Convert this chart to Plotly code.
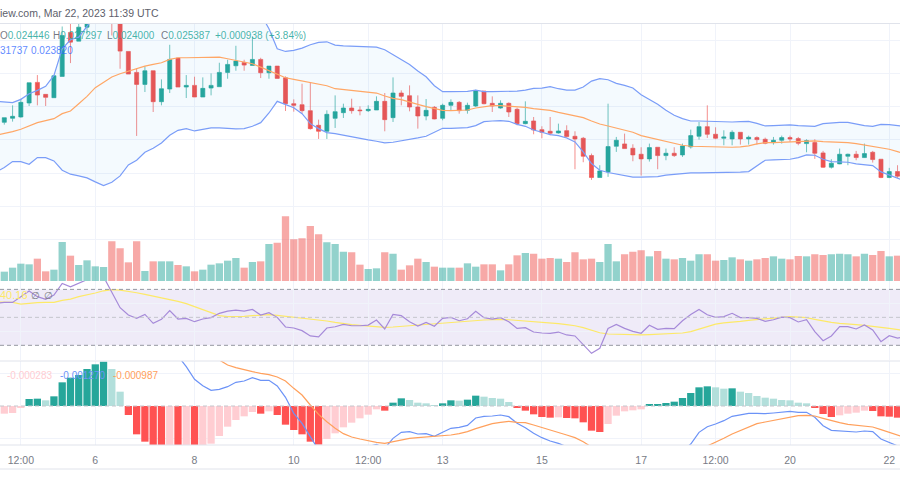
import pandas as pd
import plotly.graph_objects as go
from plotly.subplots import make_subplots

# 4H candles, prices are in units of 1e-4 (0.025 -> 250)
# first and last entries sit just outside the visible range
first_candle = "2023-03-04 00:00"

opens = [326,326.5,332.5,334.5,355.5,386.5,368.5,363.5,395.5,461.5,448.5,
         469.5,481,505,515,481,433,401.5,383.5,404,357.5,
         376.5,423,379.5,382,364.5,378,380,401.5,411.5,416.5,
         412,421,401,411,393.5,354.5,353,344,322,313,
         332.5,341,348,345,344,345,358,333.5,370.5,366.5,
         349.5,336,349,332.5,352,356.5,344.5,351,373.5,355,
         348,355,346,324.5,328.5,315.5,313,310.5,314,305.5,
         302.5,276.5,243.5,252,290.5,294,287.5,278.5,271.5,289,
         276.5,280,277.5,289.5,305.5,320,308.5,302.5,301.5,311.5,
         301.5,303.5,301,296,299.5,303.5,302,294.5,296,280.5,
         259,264,275.5,278.5,273.5,281.5,271,243.5,252.5,245.5]
highs = [330,333.5,352,362,386,397.5,368.5,396.5,470.5,479.5,480,
         489.5,510,520,520,490,433,408,410.5,404,391,
         443,423,397.5,395,394,400,416,420.5,441.5,420.5,
         455.5,423.5,411,411,395.5,361,384.5,386,330.5,344.5,
         367,354.5,362,350.5,352,365.5,370.5,394,374.5,382,
         367,361.5,351,354.5,361,358.5,356,375.5,373.5,365.5,
         359.5,356.5,348.5,358,334.5,320.5,334.5,324.5,322,313,
         304.5,279.5,262,354.5,304.5,309.5,293.5,289,294.5,289,
         287,289,294.5,315.5,327,352,319,314.5,314.5,311.5,
         306.5,305.5,303.5,304.5,306.5,306.5,304.5,301,301,283.5,
         271,287,279.5,283.5,294.5,283.5,271,258,262,250]
lows = [320,323,327.5,333.5,351,352,351,363,395.5,415.5,448.5,
        458.5,478,500,457,407,399,306,372,342,352,
        370.5,379.5,363,364.5,364.5,367,380,392,404,404,
        412,393,392,392.5,343.5,342.5,339.5,315.5,301.5,301.5,
        318,333,339.5,337,342,345,313,327,352,343,
        317,329.5,331,329.5,343.5,339.5,339.5,349.5,353.5,342,
        347,334.5,322,323.5,308.5,302.5,307,309.5,303.5,256,
        266.5,240,243.5,244.5,282,287,268,246.5,267.5,256,
        269.5,274.5,274.5,287,300.5,303,301,292,292,293,
        293,293,293.5,293,294.5,297,292,281.5,271.5,258,
        257,263.5,262,269.5,273,266,242.5,242.5,243,240]
closes = [326.5,333.5,335.5,356.5,386,367.5,364,396.5,457,447,469.5,
          479.5,505,515,482,433.5,399,383.5,404,357.5,377,
          421,379.5,382,364.5,377.5,382,401.5,413.5,418.5,412.5,
          421,401,411,392.5,354.5,352,344,317,313,338.5,
          342.5,348,344,344,346,358,330.5,370.5,365.5,349.5,
          336,344.5,331.5,352,356.5,344,352,373.5,354.5,351,
          355,342,324.5,328,315,311.5,310,313.5,305,301.5,
          275.5,243.5,253.5,290,299.5,287,277.5,271.5,288.5,276.5,
          280,276.5,291,306.5,320,308.5,302.5,304.5,311.5,301.5,
          304,300.5,295,299.5,303.5,301.5,295,299,280,259,
          265,278.5,278.5,273.5,279.5,270.5,243.5,252.5,245.5,244]

bb_upper = [358,357,356,361,369.5,374.5,380.5,397,437,450.5,454.5,470.5,489.5,514.5,524.5,529.5,
            535,540,545,548,550,552,553,552,550,548,545,540,535,525,515,505,489.5,467,437,433,434.5,
            438,443,446.5,447.5,442.5,441.5,441,440.5,440.5,439.5,435.5,428,421.5,413.5,403.5,395,381.5,
            372.5,372.5,372.5,373,375,372.5,372.5,372.5,373,373.5,375,377.5,378,380,377,375,375,379.5,388.5,392,
            390.5,385,382,378,368,361,353.5,344.5,337,332,328.5,328.5,328,327,326.5,327,327.5,328,325,321,
            321.5,322,322.5,321.5,320.5,320.5,324.5,326,326.5,326.5,323.5,321.5,320.5,323.5,323,321,320]
bb_basis = [307,309.5,312.5,316,320.5,326,329,332,339.5,343.5,354.5,365.5,378.5,387,394.5,399.5,403.5,408,411,
            413.5,416,421,423.5,423.5,424,424.5,425,424.5,422,419.5,417,414.5,409.5,404.5,398.5,393.5,391,
            388.5,385.5,383.5,381.5,377,375.5,374,373,372,370.5,366,362.5,360.5,357.5,353.5,350,347.5,344.5,
            344,344,345,348,350,351.5,351.5,350.5,350.5,349,347,345.5,344.5,341.5,339,336,333.5,328.5,324,
            321,318,314.5,311.5,306.5,303.5,300.5,297.5,294.5,292,290.5,290,289.5,289,289,289,289.5,291,294,
            296,296,296.5,297,297.5,298,298.5,297.5,297,297,296,294.5,292.5,291,289,286,282.5,279]
bb_lower = [252,258.5,267.5,267.5,263.5,273.5,273.5,268.5,254.5,248.5,246,243,237,231.5,236.5,246,262.5,269.5,
            281.5,287.5,295.5,307,314.5,317,313.5,316,318,318,317,316.5,317,320.5,326,340.5,358,353.5,348.5,
            339.5,324.5,317,311,309.5,307,304,301.5,300,298,295.5,296.5,298.5,300,303,305.5,312,317.5,317.5,
            317.5,318.5,321.5,327.5,328.5,329,328,323.5,320.5,315,311.5,308,306.5,303,297,282,264.5,254.5,
            251,248.5,246,244,244,244.5,245,247,248.5,249.5,250.5,250.5,250.5,251,251.5,251.5,251.5,252.5,
            261.5,269.5,270,270.5,271,273.5,277.5,277,271,267.5,267,266.5,264,263,261.5,252,247,242,238]

volume = [25,28,40,52,50,67,29,34,117,76,48,62,44,42,119,98,56,119,30,59,59,59,48,44,29,34,49,53,61,69,40,
          57,59,111,115,194,125,128,165,140,116,111,88,86,49,36,38,86,82,34,47,67,57,43,40,40,40,53,43,50,50,
          32,50,77,84,82,67,69,67,57,86,65,67,57,111,59,80,88,92,74,90,67,65,69,61,80,80,61,63,71,65,
          61,65,69,74,67,65,75,74,80,78,80,82,80,74,82,78,90,74,76,70]

rsi = [60,60.7,60.7,64.8,68.8,64.8,62.9,66,74.3,71.9,74.3,76.7,79.5,79,68.3,56.9,51.7,49.3,52.1,45.7,48.6,
       54.8,48.8,49.3,46.9,48.8,49.8,52.9,54.5,55.2,54.5,55.7,51.7,53.3,50,43.1,42.4,
       40.5,36.7,36,42.4,43.3,45,44,44,44.5,48.1,41.7,52.1,51.2,46.9,43.8,46.4,43.6,49.3,50,47.6,49,54.3,
       49.8,48.8,49.8,46.9,42.1,42.6,39.5,38.8,38.6,39.5,37.4,36.7,30.2,24.3,27.9,
       42.1,45,42.1,40,38.6,44.3,41.4,42.1,41.9,47.6,52.1,55.7,51.9,50,50.5,52.9,49.8,49.8,49.3,47.1,48.3,
       50.2,49.8,46.7,48.3,39.8,33.3,36.7,43.3,43.3,41.7,44.5,41,32.6,36.9,35.2,36]
rsi_ma = [61,60.95,60.7,59.5,60.2,60.5,60.7,60.7,62.1,63.1,64.8,66,67.4,69,69.8,69.5,68.8,67.6,66.4,65.2,64.3,
          63.1,61.4,59.8,57.6,55.2,52.9,51.2,50.5,50.5,50.7,51.2,51.4,51.9,51.4,50.7,50.2,
          49.8,49,48.1,47.4,46.4,45.5,44.8,44.3,43.8,43.3,42.9,43.1,43.6,44,44.5,45,45.5,46,46.4,46.7,47.1,47.9,
          48.1,48.3,48.6,48.3,47.9,47.4,46.9,46.4,46.2,45.5,44.8,44,42.6,40.7,39,
          38.1,37.9,37.4,37.1,37.4,37.6,37.9,38.1,38.1,38.8,39.8,41.7,43.8,45.2,46,46.4,47.1,47.9,48.6,49,49.5,
          50,50.5,50.2,49.8,48.6,47.4,46.4,45.7,45,44.8,44.3,43.8,42.9,42.1,41.2,40.5]

# macd panel in units of 1e-5
histogram = [-25,-23,-21,-5,21,22,17,29,71,85,93,111,125,133,111,43,-27,-85,-107,-120,-135,
             -130,-138,-128,-136,-125,-113,-90,-62,-42,-31,-18,-23,-16,-27,-56,-72,-85,-107,-116,-99,
             -82,-64,-50,-37,-26,-10,-14,10,23,18,10,8,2,8,17,16,19,31,28,24,
             22,12,-5,-14,-25,-33,-35,-34,-36,-37,-49,-74,-78,-54,-29,-16,-13,-10,4,5,
             9,13,24,39,56,59,56,52,53,43,39,30,25,22,18,17,10,8,-5,-24,
             -33,-28,-23,-20,-14,-15,-31,-32,-35,-38]
macd = [175,170,165,162,175,190,195,210,260,300,320,350,370,380,375,345,330,300,270,240,215,190,150,
        118,80,61,47,50,58,71,75,85,77,77,60,26,-22,-52,-92,-132,-150,-160,-150,-140,-130,-122,
        -115,-127,-97,-79,-77,-84,-83,-91,-79,-67,-64,-58,-36,-31,-30,-27,-32,-52,-65,-82,-95,-105,-112,-122,
        -145,-170,-200,-235,-255,-240,-230,-215,-205,-195,-180,-170,-155,-135,
        -114,-79,-62,-54,-44,-31,-26,-22,-22,-23,-21,-18,-16,-19,-19,-34,-59,-73,-74,-75,-78,-75,-77,-99,-109,-121,-130]
signal = [200,193,186,167,154,168,178,181,189,215,227,239,245,247,264,302,357,385,377,360,350,320,288,246,216,186,160,
          138,123,115,108,103,98,94,87,75,53,
          33,3,-25,-47,-67,-83,-93,-99,-105,-109,-112,-107,-102,-97,-95,-93,-92,-89,-87,-83,-77,-68,-60,-53,-49,-46,
          -49,-50,-57,-64,-72,-80,-87,-95,-107,-123,
          -145,-170,-190,-195,-192,-185,-180,-172,-165,-155,-145,-135,-125,-120,
          -109,-97,-84,-73,-63,-53,-48,-43,-37,-32,-29,-28,-30,-37,-44,-50,-55,-58,-60,-63,-71,-79,-88,-95]

tick_dates = ["2023-03-04 12:00","2023-03-06","2023-03-08","2023-03-10","2023-03-11 12:00","2023-03-13",
              "2023-03-15","2023-03-17","2023-03-18 12:00","2023-03-20","2023-03-22"]
tick_labels = ["12:00","6","8","10","12:00","13","15","17","12:00","20","22"]

for series in (opens, highs, lows, closes, bb_upper, bb_basis, bb_lower, volume, rsi, rsi_ma, histogram, macd, signal):
    assert len(series) == 111, len(series)

UP = "#26A69A"
DOWN = "#EF5350"
GRID = "#F0F3FA"
TEXT = "#787B86"

dates = pd.date_range(first_candle, periods=len(opens), freq="4h")

vol_colors = ["rgba(38,166,154,0.5)" if c >= o else "rgba(239,83,80,0.5)" for o, c in zip(opens, closes)]

hist_colors = []
for n, v in enumerate(histogram):
    prev = histogram[n - 1] if n else v
    if v >= 0:
        hist_colors.append("#26A69A" if v >= prev else "#B2DFDB")
    else:
        hist_colors.append("#FF5252" if v < prev else "#FFCDD2")

fig = make_subplots(rows=3, cols=1, shared_xaxes=True, vertical_spacing=0.002,
                    specs=[[{"secondary_y": True}], [{}], [{}]])

# price pane
fig.add_trace(go.Bar(x=dates, y=volume, marker=dict(color=vol_colors, line=dict(width=0))),
              row=1, col=1, secondary_y=True)
fig.add_trace(go.Scatter(x=dates, y=bb_lower, mode="lines", line=dict(color="#7A9DF8", width=1.2)),
              row=1, col=1, secondary_y=False)
fig.add_trace(go.Scatter(x=dates, y=bb_upper, mode="lines", line=dict(color="#7A9DF8", width=1.2),
                         fill="tonexty", fillcolor="rgba(33,150,243,0.05)"),
              row=1, col=1, secondary_y=False)
fig.add_trace(go.Scatter(x=dates, y=bb_basis, mode="lines", line=dict(color="#FFA766", width=1.2)),
              row=1, col=1, secondary_y=False)
fig.add_trace(go.Candlestick(x=dates, open=opens, high=highs, low=lows, close=closes,
                             increasing=dict(line=dict(color="rgba(38,166,154,0.65)", width=1), fillcolor=UP),
                             decreasing=dict(line=dict(color="rgba(239,83,80,0.65)", width=1), fillcolor=DOWN)),
              row=1, col=1, secondary_y=False)

# rsi pane
fig.add_trace(go.Scatter(x=dates, y=rsi_ma, mode="lines", line=dict(color="#FDE968", width=1.2)), row=2, col=1)
fig.add_trace(go.Scatter(x=dates, y=rsi, mode="lines", line=dict(color="#A68AD9", width=1.2)), row=2, col=1)

# macd pane
fig.add_trace(go.Bar(x=dates, y=histogram, marker=dict(color=hist_colors, line=dict(width=0))), row=3, col=1)
fig.add_trace(go.Scatter(x=dates, y=macd, mode="lines", line=dict(color="#6C93F7", width=1.2)), row=3, col=1)
fig.add_trace(go.Scatter(x=dates, y=signal, mode="lines", line=dict(color="#FFA05C", width=1.2)), row=3, col=1)


def px_y(y):
    return 1 - y / 500


def label(text, x, y, color, size=10):
    fig.add_annotation(text=text, xref="paper", yref="paper", x=x / 900, y=px_y(y), xanchor="left",
                       yanchor="middle", showarrow=False, font=dict(color=color, size=size),
                       borderpad=0, borderwidth=0)


def pane_line(y, color="#E0E3EB"):
    fig.add_shape(type="line", xref="paper", yref="paper", x0=0, x1=1, y0=px_y(y), y1=px_y(y),
                  line=dict(color=color, width=1))


fig.add_hrect(y0=30, y1=70, row=2, col=1, fillcolor="rgba(126,87,194,0.12)", line_width=0, layer="below")
for level, col in ((70, "#9598A1"), (50, "#C4C6CD"), (30, "#9598A1")):
    fig.add_hline(y=level, row=2, col=1, line=dict(color=col, width=1, dash="4px,3px"))
fig.add_hline(y=0, row=3, col=1, line=dict(color="#C4C6CD", width=1, dash="4px,3px"))

for y in (23.5, 361, 445, 469):
    pane_line(y)

teal_text = "rgba(38,166,154,0.85)"
label("iew.com, Mar 22, 2023 11:39 UTC", 0, 13, "#5D606B", 10.5)
for x, letter, val in ((0, "O", "0.024446"), (53, "H", "0.027297"), (107, "L", "0.024000"), (161, "C", "0.025387")):
    label(f'<span style="color:#5D606B">{letter}</span>{val}', x, 36, teal_text)
label("+0.000938 (+3.84%)", 215, 36, teal_text)
label("31737", 0, 51, "rgba(41,98,255,0.75)")
label("0.023820", 31, 51, "rgba(41,98,255,0.75)")
label("40.16", 0, 295, "#FDE968", 11)
label("∅", 31, 295, TEXT)
label("∅", 44, 295, TEXT)
label("-0.000283", 7, 375, "#FFCDD2")
label("-0.001270", 60, 375, "#6C93F7")
label("-0.000987", 113, 375, "#FFA05C")

hidden = dict(showticklabels=False, ticks="", zeroline=False, showline=False)
fig.update_layout(
    width=900, height=500, margin=dict(l=0, r=0, t=0, b=0), showlegend=False,
    paper_bgcolor="white", plot_bgcolor="white", bargap=0.12, barmode="overlay",
    font=dict(family="Liberation Sans, sans-serif", color=TEXT),
    yaxis=dict(domain=[px_y(281), px_y(23.5)], range=[88, 475], tickvals=[150, 200, 250, 300, 350, 400, 450],
               gridcolor=GRID, **hidden),
    yaxis2=dict(domain=[px_y(281), px_y(23.5)], range=[0, 772.5], showgrid=False, **hidden),
    yaxis3=dict(domain=[px_y(360), px_y(281)], range=[19.5, 76], tickvals=[20, 40, 60], gridcolor=GRID, **hidden),
    yaxis4=dict(domain=[px_y(445), px_y(361)], range=[-117, 135], tickvals=[-97, 97], gridcolor=GRID, **hidden),
)
fig.update_xaxes(domain=[0, 1], range=["2023-03-04 01:55", "2023-03-22 05:12"], tickmode="array", tickvals=tick_dates,
                 ticktext=tick_labels, gridcolor=GRID, showline=False, zeroline=False,
                 rangeslider_visible=False, showticklabels=False, ticks="")
fig.update_xaxes(showticklabels=True, ticks="outside", ticklen=5, tickcolor="rgba(0,0,0,0)",
                 tickfont=dict(size=10.5, color=TEXT), row=3, col=1)

fig.write_html("out.html", config={"displayModeBar": False}, post_script="document.body.style.margin='0';")
